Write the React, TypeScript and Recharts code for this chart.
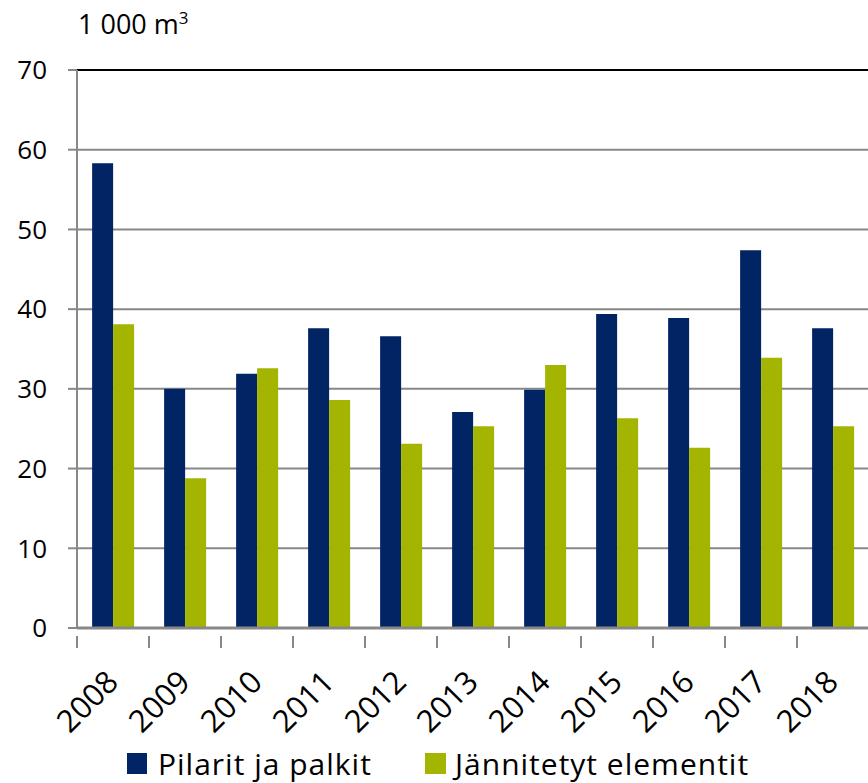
import React from "react";
import { Bar, BarChart, CartesianGrid, Legend, ReferenceLine, XAxis, YAxis } from "recharts";

const years = ["2008", "2009", "2010", "2011", "2012", "2013", "2014", "2015", "2016", "2017", "2018"];
const pilarit = [58.3, 30.0, 31.9, 37.6, 36.6, 27.1, 29.9, 39.4, 38.9, 47.4, 37.6];
const jannitetyt = [38.1, 18.8, 32.6, 28.6, 23.1, 25.3, 33.0, 26.3, 22.6, 33.9, 25.3];
const yTicks = [0, 10, 20, 30, 40, 50, 60, 70];

const data = years.map((year, i) => ({
  year,
  pilarit: pilarit[i],
  jannitetyt: jannitetyt[i],
}));

const font = "'Open Sans', sans-serif";
const NAVY = "#002464";
const GREEN = "#a3b500";

const XTick = (props: any) => {
  const { x, y, payload, bandSize } = props;
  const half = (bandSize || 72) / 2;
  return (
    <g>
      <line x1={x - half} y1={y} x2={x - half} y2={y + 12} stroke="#888" strokeWidth={2} />
      <text
        x={x + 7}
        y={y + 48}
        transform={`rotate(-45, ${x + 7}, ${y + 48})`}
        textAnchor="end"
        fontSize={31}
        fontFamily={font}
        fill="#000"
      >
        {payload.value}
      </text>
    </g>
  );
};

const LegendContent = () => (
  <div style={{ position: "relative", height: 40, fontFamily: font, fontSize: 30, letterSpacing: 1, color: "#000" }}>
    <div style={{ position: "absolute", left: 127, top: 0, display: "flex", alignItems: "center", height: 40 }}>
      <span style={{ width: 20, height: 21, background: NAVY, display: "inline-block", marginRight: 11 }} />
      <span>Pilarit ja palkit</span>
    </div>
    <div style={{ position: "absolute", left: 425, top: 0, display: "flex", alignItems: "center", height: 40 }}>
      <span style={{ width: 21, height: 21, background: GREEN, display: "inline-block", marginRight: 9 }} />
      <span>Jännitetyt elementit</span>
    </div>
  </div>
);

export default function App() {
  return (
    <div style={{ position: "absolute", left: 0, top: 0, width: 868, height: 783, overflow: "hidden", background: "#fff" }}>
      <div style={{ position: "absolute", left: 78, top: 5, fontFamily: font, fontSize: 27, color: "#000" }}>
        1 000 m<sup style={{ fontSize: 17 }}>3</sup>
      </div>
      <BarChart
        width={880}
        height={783}
        data={data}
        margin={{ top: 70, right: 11, left: 0, bottom: 0 }}
        barCategoryGap="21%"
        barGap={0}
      >
        <CartesianGrid vertical={false} stroke="#888" strokeWidth={2} />
        <XAxis
          dataKey="year"
          height={115}
          interval={0}
          tickLine={false}
          axisLine={{ stroke: "#888", strokeWidth: 3 }}
          tick={<XTick bandSize={72} />}
        />
        <YAxis
          width={77}
          domain={[0, 70]}
          ticks={yTicks}
          tickSize={9}
          tickMargin={21}
          tickLine={{ stroke: "#888", strokeWidth: 2 }}
          axisLine={{ stroke: "#888", strokeWidth: 2 }}
          tick={{ fill: "#000", fontSize: 26, fontFamily: font }}
        />
        <ReferenceLine y={70} stroke="#000" strokeWidth={2} />
        <Bar dataKey="pilarit" name="Pilarit ja palkit" fill={NAVY} isAnimationActive={false} />
        <Bar dataKey="jannitetyt" name="Jännitetyt elementit" fill={GREEN} isAnimationActive={false} />
        <Legend
          verticalAlign="bottom"
          height={40}
          content={<LegendContent />}
          wrapperStyle={{ left: 0, width: 880 }}
        />
      </BarChart>
    </div>
  );
}
